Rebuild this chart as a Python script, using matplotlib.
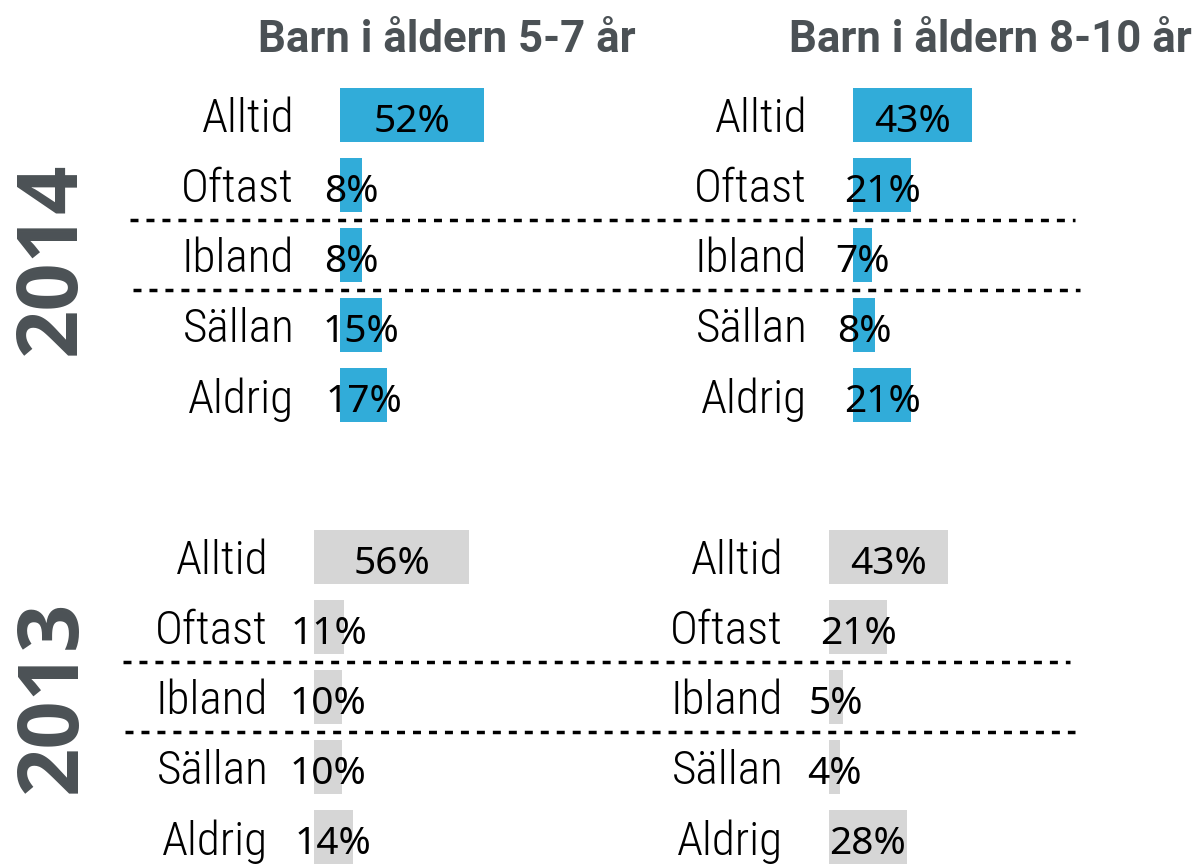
import matplotlib
matplotlib.use("Agg")
import matplotlib.pyplot as plt
import matplotlib.transforms as mtransforms
from matplotlib.lines import Line2D

# Data
svar = ["Alltid", "Oftast", "Ibland", "Sällan", "Aldrig"]
titlar = ["Barn i åldern 5-7 år", "Barn i åldern 8-10 år"]
ar = ["2014", "2013"]
v2014_5_7 = [52, 8, 8, 15, 17]
v2014_8_10 = [43, 21, 7, 8, 21]
v2013_5_7 = [56, 11, 10, 10, 14]
v2013_8_10 = [43, 21, 5, 4, 28]

W, H = 1201, 866
BLA = "#31acd9"
GRA = "#d6d6d6"
MORK = "#4b5155"
PX_PER_PCT = 2.77

LABEL_FONT = ["Roboto Condensed", "Liberation Sans Narrow", "DejaVu Sans"]
VALUE_FONT = ["Noto Sans", "Open Sans", "DejaVu Sans"]
YEAR_FONT = ["Open Sans", "DejaVu Sans"]
TITLE_FONT = ["Roboto", "DejaVu Sans"]

fig = plt.figure(figsize=(W / 100, H / 100), dpi=100)


def rect(x0, ytop, w, h):
    return [x0 / W, 1 - (ytop + h) / H, w / W, h / H]


def panel(x0, ytop, values, color):
    width_px = 320
    ax = fig.add_axes(rect(x0, ytop, width_px, 350))
    ax.barh(range(len(values)), values, height=0.77, color=color, left=0)
    ax.set_xlim(0, width_px / PX_PER_PCT)
    ax.set_ylim(len(values) - 0.5, -0.5)
    ax.set_yticks(range(len(svar)))
    ax.set_yticklabels(svar, family=LABEL_FONT, weight="light",
                       fontsize=34, color="black")
    ax.tick_params(axis="y", length=0, pad=33)
    ax.set_xticks([])
    for s in ax.spines.values():
        s.set_visible(False)
    ax.patch.set_alpha(0)
    # procenttal centrerat på stapeln, baslinjen lite under mitten
    for i, v in enumerate(values):
        ax.text(v / 2, i + 0.24, f"{v}%", ha="center", va="baseline",
                family=VALUE_FONT, weight="medium", fontsize=28,
                color="black")
    return ax


ax_tl = panel(340, 80, v2014_5_7, BLA)
ax_tr = panel(853, 80, v2014_8_10, BLA)
ax_bl = panel(314, 522, v2013_5_7, GRA)
ax_br = panel(829, 522, v2013_8_10, GRA)

# streckade linjer mellan Oftast/Ibland och Ibland/Sällan
for ax, spans in [(ax_tl, [(130, 1075), (133, 1080)]),
                  (ax_bl, [(123, 1070), (125, 1075)])]:
    tr = mtransforms.blended_transform_factory(fig.transFigure, ax.transData)
    for yy, (xa, xb) in zip([1.5, 2.5], spans):
        fig.add_artist(Line2D([xa / W, xb / W], [yy, yy], transform=tr,
                              color="black", lw=2.5,
                              linestyle=(0, (2.3, 2.3))))

# rubriker
fig.text(447 / W, 1 - 40 / H, titlar[0], ha="center", va="center",
         family=TITLE_FONT, weight="bold", fontsize=31.5, color=MORK)
fig.text(990 / W, 1 - 40 / H, titlar[1], ha="center", va="center",
         family=TITLE_FONT, weight="bold", fontsize=31.5, color=MORK)

# årtal
fig.text(53 / W, 1 - 258 / H, ar[0], rotation=90, ha="center", va="center",
         family=YEAR_FONT, weight="bold", fontsize=61, color=MORK)
fig.text(54 / W, 1 - 696 / H, ar[1], rotation=90, ha="center", va="center",
         family=YEAR_FONT, weight="bold", fontsize=61, color=MORK)

fig.savefig("out.png", dpi=100)
